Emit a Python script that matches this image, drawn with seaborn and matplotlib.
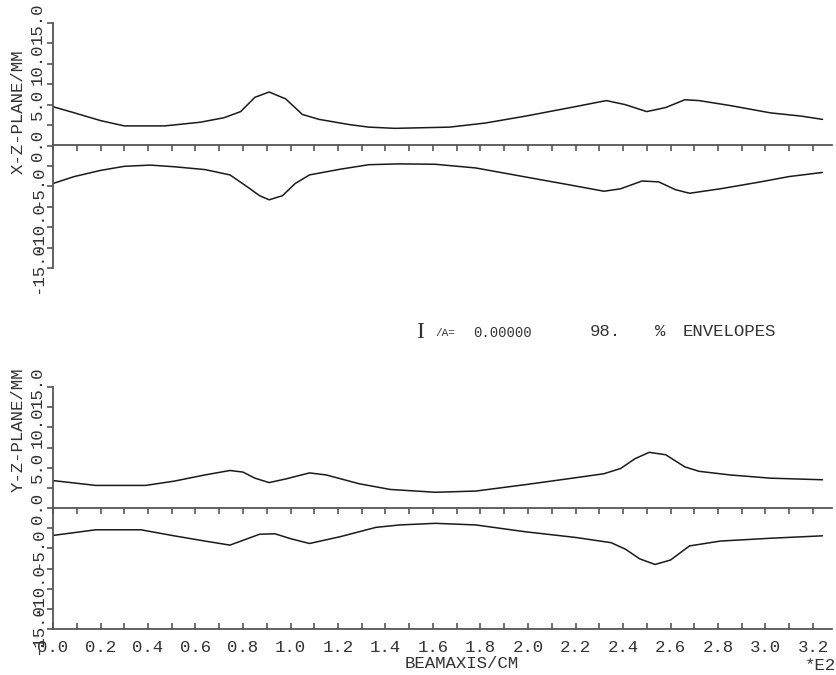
import numpy as np
import matplotlib
matplotlib.use("Agg")
import matplotlib.pyplot as plt
import seaborn as sns

# ---------------- data (units: x in E2 cm, y in mm) ----------------
xz_top_x = [0.00, 0.09, 0.20, 0.30, 0.47, 0.62, 0.72, 0.79, 0.85, 0.91, 0.98, 1.05, 1.12, 1.25, 1.33,
            1.44, 1.67, 1.82, 1.99, 2.18, 2.33, 2.41, 2.50, 2.58, 2.66, 2.72, 2.85, 3.02, 3.15, 3.24]
xz_top_y = [4.75, 4.0, 3.05, 2.4, 2.4, 2.85, 3.4, 4.15, 5.9, 6.55, 5.7, 3.8, 3.2, 2.55, 2.25,
            2.1, 2.25, 2.75, 3.6, 4.65, 5.5, 5.0, 4.15, 4.65, 5.6, 5.5, 4.9, 4.0, 3.6, 3.2]

xz_bot_x = [0.00, 0.09, 0.20, 0.30, 0.41, 0.51, 0.64, 0.745, 0.82, 0.87, 0.91, 0.966, 1.02, 1.08, 1.21,
            1.33, 1.46, 1.61, 1.78, 1.97, 2.18, 2.32, 2.39, 2.48, 2.55, 2.62, 2.68, 2.81, 2.98, 3.10, 3.24]
xz_bot_y = [-4.65, -3.8, -3.05, -2.55, -2.4, -2.6, -2.95, -3.6, -5.1, -6.15, -6.65, -6.15, -4.65, -3.6, -2.9,
            -2.35, -2.25, -2.3, -2.75, -3.75, -4.85, -5.6, -5.3, -4.35, -4.45, -5.4, -5.85, -5.3, -4.45, -3.8, -3.3]

yz_top_x = [0.00, 0.09, 0.18, 0.39, 0.51, 0.64, 0.745, 0.80, 0.85, 0.91, 0.98, 1.08, 1.15, 1.29, 1.42,
            1.61, 1.78, 1.99, 2.20, 2.32, 2.39, 2.45, 2.51, 2.58, 2.66, 2.72, 2.85, 3.02, 3.24]
yz_top_y = [3.4, 3.1, 2.8, 2.8, 3.33, 4.1, 4.65, 4.45, 3.7, 3.15, 3.6, 4.35, 4.1, 3.0, 2.3,
            1.95, 2.1, 2.9, 3.75, 4.25, 4.9, 6.1, 6.9, 6.6, 5.1, 4.55, 4.1, 3.7, 3.5]

yz_bot_x = [0.00, 0.09, 0.18, 0.37, 0.51, 0.64, 0.745, 0.81, 0.87, 0.935, 1.00, 1.08, 1.21, 1.36,
            1.46, 1.61, 1.78, 1.99, 2.20, 2.35, 2.41, 2.47, 2.535, 2.60, 2.68, 2.81, 3.02, 3.24]
yz_bot_y = [-3.4, -3.05, -2.7, -2.7, -3.45, -4.1, -4.6, -3.9, -3.25, -3.2, -3.8, -4.4, -3.55, -2.4,
            -2.1, -1.9, -2.1, -2.95, -3.65, -4.3, -5.1, -6.3, -7.0, -6.45, -4.7, -4.1, -3.75, -3.45]

y_ticks = [-15.0, -12.5, -10.0, -7.5, -5.0, -2.5, 0.0, 2.5, 5.0, 7.5, 10.0, 12.5, 15.0]
y_ticklabels = ["-15.0", "", "-10.0", "", "-5.0", "", "0.0", "", "5.0", "", "10.0", "", "15.0"]
x_ticks = [round(0.1 * i, 1) for i in range(33)]
x_ticklabels = [f"{t:.1f}" if i % 2 == 0 else "" for i, t in enumerate(x_ticks)]

panel_labels = ["X-Z-PLANE/MM", "Y-Z-PLANE/MM"]
x_label = "BEAMAXIS/CM"
x_scale = "*E2"

# ---------------- styling ----------------
sns.set_style("white")
plt.rcParams["font.family"] = ["Liberation Mono", "DejaVu Sans Mono"]
plt.rcParams["axes.edgecolor"] = "#555555"
plt.rcParams["xtick.color"] = "#555555"
plt.rcParams["ytick.color"] = "#555555"
TXT = "#333333"
LINE = "#1a1a1a"
FS = 12.5

W, H = 837, 675
fig = plt.figure(figsize=(W / 100, H / 100), dpi=100)
fig.patch.set_facecolor("white")

left, right = 53, 832
ax_top = fig.add_axes([left / W, 1 - 268 / H, (right - left) / W, 245 / H])
ax_bot = fig.add_axes([left / W, 1 - 629 / H, (right - left) / W, 242 / H])

series = [
    (ax_top, xz_top_x, xz_top_y, xz_bot_x, xz_bot_y),
    (ax_bot, yz_top_x, yz_top_y, yz_bot_x, yz_bot_y),
]

for ax, ux, uy, lx, ly in series:
    sns.lineplot(x=ux, y=uy, ax=ax, color=LINE, linewidth=1.1, estimator=None, sort=False)
    sns.lineplot(x=lx, y=ly, ax=ax, color=LINE, linewidth=1.1, estimator=None, sort=False)
    ax.set_xlim(0, (right - left) / 237.5)
    ax.set_ylim(-15, 15)
    ax.set_facecolor("white")
    for s in ["top", "right"]:
        ax.spines[s].set_visible(False)
    ax.spines["left"].set_linewidth(1.3)
    ax.set_yticks(y_ticks)
    ax.set_yticklabels(y_ticklabels, rotation=90, fontsize=FS, color=TXT)
    for lab in ax.get_yticklabels():
        lab.set_va("center")
    ax.tick_params(axis="y", direction="out", length=4, width=1.2, pad=2, left=True)
    ax.set_xlabel("")
    ax.set_ylabel("")
    # zero line with downward tick marks
    sec = ax.secondary_xaxis(0.5)
    sec.set_xticks(x_ticks)
    sec.tick_params(direction="in", length=4, width=1.2, labeltop=False, labelbottom=False)
    for sp in sec.spines.values():
        sp.set_linewidth(1.3)
        sp.set_color("#555555")

ax_top.spines["bottom"].set_visible(False)
ax_top.tick_params(axis="x", bottom=False, labelbottom=False)

ax_bot.spines["bottom"].set_linewidth(1.3)
ax_bot.set_xticks(x_ticks)
ax_bot.set_xticklabels(x_ticklabels, fontsize=FS, color=TXT)
ax_bot.tick_params(axis="x", direction="in", length=4, width=1.2, pad=8, bottom=True)

fig.text(18 / W, 1 - 112 / H, panel_labels[0], rotation=90, ha="center", va="center", fontsize=FS, color=TXT)
fig.text(18 / W, 1 - 430 / H, panel_labels[1], rotation=90, ha="center", va="center", fontsize=FS, color=TXT)
fig.text(462 / W, 1 - 664 / H, x_label, ha="center", va="center", fontsize=FS, color=TXT)
fig.text(836 / W, 1 - 666 / H, x_scale, ha="right", va="center", fontsize=FS, color=TXT)

yc = 1 - 332 / H
fig.text(420 / W, yc, "I", ha="center", va="center", fontsize=17, color=TXT, family=["Liberation Serif"])
fig.text(435 / W, yc - 0.002, "/A=", ha="left", va="center", fontsize=8, color=TXT)
fig.text(473 / W, yc - 0.002, "0.00000", ha="left", va="center", fontsize=10, color=TXT)
fig.text(590 / W, yc, "98.", ha="left", va="center", fontsize=FS, color=TXT)
fig.text(655 / W, yc, "%", ha="left", va="center", fontsize=FS, color=TXT)
fig.text(683 / W, yc, "ENVELOPES", ha="left", va="center", fontsize=FS, color=TXT)

fig.savefig("out.png", dpi=100, facecolor="white")
